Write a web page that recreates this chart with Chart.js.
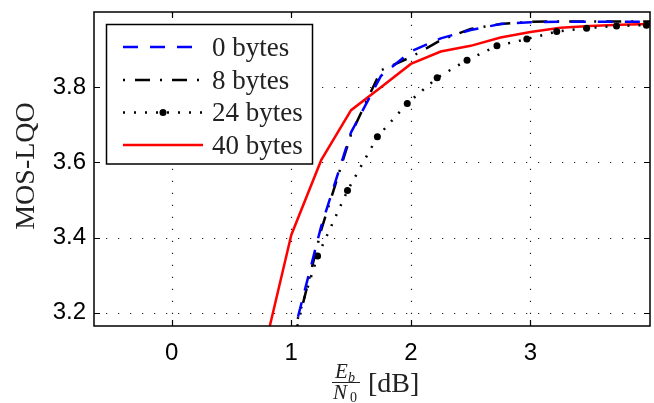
<!DOCTYPE html>
<html>
<head>
<meta charset="utf-8">
<script src="https://cdn.jsdelivr.net/npm/chart.js@4.4.0/dist/chart.umd.min.js"></script>
<style>
  body { margin: 0; background: #fff; }
  canvas { display: block; }
</style>
</head>
<body>
<canvas id="grafico" width="654" height="403"></canvas>
<script>
// valores
var xTicks = [0, 1, 2, 3];
var yTicks = [3.2, 3.4, 3.6, 3.8];

var ebn0 = [1.0, 1.25, 1.5, 1.75, 2.0, 2.25, 2.5, 2.75, 3.0, 3.25, 3.5, 3.75, 4.0];
var mos0 = [3.12, 3.43, 3.68, 3.83, 3.895, 3.93, 3.952, 3.968, 3.973, 3.974, 3.974, 3.974, 3.974];
var mos8 = [3.10, 3.42, 3.675, 3.845, 3.88, 3.925, 3.955, 3.968, 3.974, 3.975, 3.975, 3.975, 3.975];

var ebn0_24 = [0.97, 1.22, 1.47, 1.72, 1.97, 2.22, 2.47, 2.72, 2.97, 3.22, 3.47, 3.72, 3.97];
var mos24 = [3.10, 3.351, 3.525, 3.668, 3.757, 3.825, 3.872, 3.91, 3.928, 3.948, 3.957, 3.963, 3.965];

var ebn0_40 = [0.75, 1.0, 1.25, 1.5, 1.75, 2.0, 2.25, 2.5, 2.75, 3.0, 3.25, 3.5, 3.75, 4.0];
var mos40 = [3.07, 3.407, 3.606, 3.739, 3.80, 3.862, 3.895, 3.91, 3.932, 3.947, 3.958, 3.963, 3.966, 3.968];

var etiquetas = ['0 bytes', '8 bytes', '24 bytes', '40 bytes'];

function puntos(xs, ys) {
    let p = [];
    for (let i = 0; i < xs.length; i++) {
        p = [...p, { x: xs[i], y: ys[i] }];
    }
    return p;
}

var serif = '"Liberation Serif", "DejaVu Serif", serif';
var sans = '"Liberation Sans", Arial, sans-serif';

var estilos = [
    { color: '#0000ff', dash: [15, 12], marker: false },
    { color: '#000000', dash: [2, 10, 15, 10], marker: false },
    { color: '#000000', dash: [2, 9], marker: true },
    { color: '#ff0000', dash: [], marker: false }
];

// fondo, rejilla punteada, marco, ticks hacia adentro, leyenda y titulos
var extras = {
    id: 'extras',
    beforeDraw: function (chart) {
        const ctx = chart.ctx;
        ctx.save();
        ctx.fillStyle = '#fff';
        ctx.fillRect(0, 0, chart.width, chart.height);
        ctx.restore();
    },
    beforeDatasetsDraw: function (chart) {
        const ctx = chart.ctx;
        const a = chart.chartArea;
        const sx = chart.scales.x, sy = chart.scales.y;
        ctx.save();
        ctx.strokeStyle = '#222';
        ctx.lineWidth = 1.2;
        ctx.setLineDash([1.2, 10.8]);
        xTicks.forEach(function (v) {
            const px = Math.round(sx.getPixelForValue(v)) + 0.5;
            ctx.beginPath();
            ctx.moveTo(px, a.bottom);
            ctx.lineTo(px, a.top);
            ctx.stroke();
        });
        yTicks.forEach(function (v) {
            const py = Math.round(sy.getPixelForValue(v)) + 0.5;
            ctx.beginPath();
            ctx.moveTo(a.left, py);
            ctx.lineTo(a.right, py);
            ctx.stroke();
        });
        ctx.restore();
    },
    afterDatasetsDraw: function (chart) {
        const ctx = chart.ctx;
        const a = chart.chartArea;
        const sx = chart.scales.x, sy = chart.scales.y;
        ctx.save();
        ctx.setLineDash([]);
        ctx.strokeStyle = '#000';
        ctx.lineWidth = 1.5;
        ctx.strokeRect(a.left, a.top, a.right - a.left, a.bottom - a.top);
        ctx.lineWidth = 1.2;
        const tl = 6;
        xTicks.forEach(function (v) {
            const px = Math.round(sx.getPixelForValue(v)) + 0.5;
            ctx.beginPath();
            ctx.moveTo(px, a.bottom); ctx.lineTo(px, a.bottom - tl);
            ctx.moveTo(px, a.top); ctx.lineTo(px, a.top + tl);
            ctx.stroke();
        });
        yTicks.forEach(function (v) {
            const py = Math.round(sy.getPixelForValue(v)) + 0.5;
            ctx.beginPath();
            ctx.moveTo(a.left, py); ctx.lineTo(a.left + tl, py);
            ctx.moveTo(a.right, py); ctx.lineTo(a.right - tl, py);
            ctx.stroke();
        });

        // leyenda
        const lx = 106.5, ly = 24.5, lw = 206, lh = 139.5;
        ctx.fillStyle = '#fff';
        ctx.fillRect(lx, ly, lw, lh);
        ctx.strokeStyle = '#000';
        ctx.lineWidth = 1.5;
        ctx.strokeRect(lx, ly, lw, lh);
        const filas = [47, 80, 112.5, 145];
        for (let i = 0; i < etiquetas.length; i++) {
            const e = estilos[i];
            ctx.beginPath();
            ctx.setLineDash(e.dash);
            ctx.strokeStyle = e.color;
            ctx.lineWidth = 2.5;
            ctx.moveTo(123, filas[i]);
            ctx.lineTo(203, filas[i]);
            ctx.stroke();
            ctx.setLineDash([]);
            if (e.marker) {
                ctx.beginPath();
                ctx.fillStyle = e.color;
                ctx.arc(163, filas[i], 3.5, 0, Math.PI * 2);
                ctx.fill();
            }
            ctx.fillStyle = '#222';
            ctx.font = '27px ' + serif;
            ctx.textAlign = 'left';
            ctx.textBaseline = 'alphabetic';
            ctx.fillText(etiquetas[i], 212, filas[i] + 8.5);
        }

        // titulo eje y
        ctx.save();
        ctx.translate(27, 166);
        ctx.rotate(-Math.PI / 2);
        ctx.fillStyle = '#222';
        ctx.font = '28px ' + serif;
        ctx.textAlign = 'center';
        ctx.textBaseline = 'middle';
        ctx.fillText('MOS-LQO', 0, 0);
        ctx.restore();

        // titulo eje x: Eb/N0 [dB]
        ctx.fillStyle = '#222';
        ctx.textAlign = 'left';
        ctx.textBaseline = 'alphabetic';
        ctx.font = 'italic 21px ' + serif;
        ctx.fillText('E', 335, 378);
        ctx.font = 'italic 14px ' + serif;
        ctx.fillText('b', 348, 382);
        ctx.beginPath();
        ctx.strokeStyle = '#222';
        ctx.lineWidth = 1;
        ctx.moveTo(332, 382.5);
        ctx.lineTo(360, 382.5);
        ctx.stroke();
        ctx.font = 'italic 21px ' + serif;
        ctx.fillText('N', 333, 399);
        ctx.font = '14px ' + serif;
        ctx.fillText('0', 350, 402);
        ctx.font = '28px ' + serif;
        ctx.fillText('[dB]', 368, 392);
        ctx.restore();
    }
};

var datasets = [];
var series = [[ebn0, mos0], [ebn0, mos8], [ebn0_24, mos24], [ebn0_40, mos40]];
for (let i = 0; i < series.length; i++) {
    datasets = [...datasets, {
        label: etiquetas[i],
        data: puntos(series[i][0], series[i][1]),
        borderColor: estilos[i].color,
        backgroundColor: estilos[i].color,
        borderDash: estilos[i].dash,
        borderWidth: 2.5,
        pointRadius: estilos[i].marker ? 3.5 : 0,
        pointBorderWidth: 0,
        fill: false,
        tension: 0
    }];
}

var ctx = document.getElementById('grafico').getContext('2d');
var grafico = new Chart(ctx, {
    type: 'line',
    data: { datasets: datasets },
    options: {
        responsive: false,
        animation: false,
        devicePixelRatio: 1,
        layout: { padding: { left: 0, top: 12, right: 3, bottom: 0 } },
        plugins: { legend: { display: false }, tooltip: { enabled: false } },
        scales: {
            x: {
                type: 'linear',
                min: -0.65,
                max: 4.0,
                afterBuildTicks: function (s) { s.ticks = xTicks.map(function (v) { return { value: v }; }); },
                afterFit: function (s) { s.height = 77; s.paddingLeft = 0; s.paddingRight = 0; },
                grid: { display: false, drawTicks: false },
                border: { display: false },
                ticks: {
                    padding: 13,
                    color: '#000',
                    font: { family: sans, size: 24 },
                    maxRotation: 0,
                    callback: function (v) { return String(v); }
                }
            },
            y: {
                type: 'linear',
                min: 3.165,
                max: 4.0,
                afterBuildTicks: function (s) { s.ticks = yTicks.map(function (v) { return { value: v }; }); },
                afterFit: function (s) { s.width = 94; s.paddingTop = 0; s.paddingBottom = 0; },
                grid: { display: false, drawTicks: false },
                border: { display: false },
                ticks: {
                    padding: 8,
                    color: '#000',
                    font: { family: sans, size: 24 },
                    callback: function (v) { return v.toFixed(1); }
                }
            }
        }
    },
    plugins: [extras]
});
</script>
</body>
</html>
